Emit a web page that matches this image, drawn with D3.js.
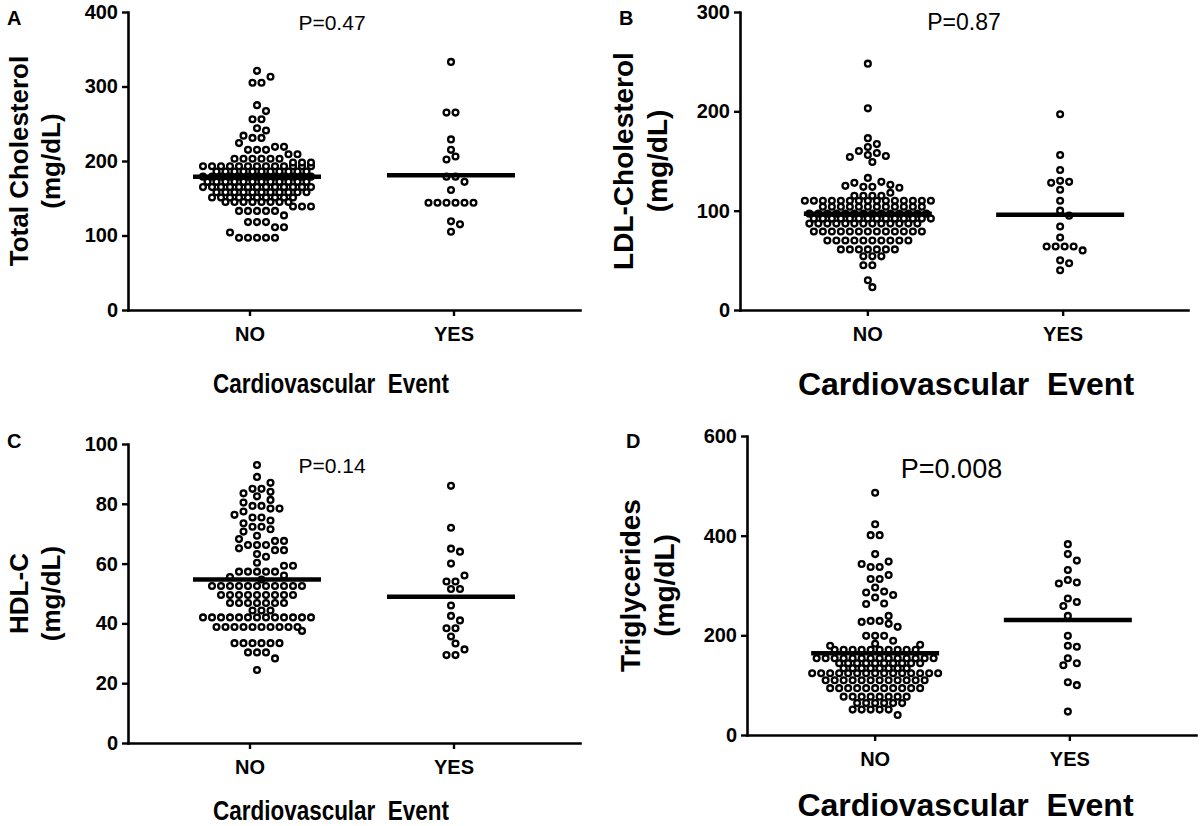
<!DOCTYPE html>
<html><head><meta charset="utf-8">
<script src="https://cdn.jsdelivr.net/npm/d3@7"></script>
<style>
body{margin:0;background:#fff}
svg{display:block}
text{font-family:"Liberation Sans",Arial,Helvetica,sans-serif;fill:#000}
</style>
</head><body>
<svg id="chart" width="1200" height="826"></svg>
<script>
// ---------- DATA ----------
const categories = ["NO", "YES"];

const ticksA = [0, 100, 200, 300, 400];
const ticksB = [0, 100, 200, 300];
const ticksC = [0, 20, 40, 60, 80, 100];
const ticksD = [0, 200, 400, 600];

const pLabels = ["P=0.47", "P=0.87", "P=0.14", "P=0.008"];

// Total cholesterol (mg/dL)
const cholNo = [321,313,305,305,275,267,256,256,244,241,234,231,231,224,219,219,215,215,215,209,209,
  203,203,203,203,203,203,198,198,198,
  193,193,193,193,193,193,193,193,193,193,193,193,193,
  186,186,186,186,186,186,186,186,186,186,186,
  179,179,179,179,179,179,179,179,179,179,179,179,179,
  172,172,172,172,172,172,172,172,172,172,172,172,
  165,165,165,165,165,165,165,165,165,165,165,165,165,
  158,158,158,158,158,158,158,158,158,158,158,
  151,151,151,151,151,151,151,151,151,151,
  145,145,145,145,145,145,145,145,
  139,139,139,133,133,133,133,133,127,118,118,118,111,111,104,97,97,97,97,97];
const cholYes = [333,265,265,229,215,206,202,179,179,172,161,144,144,144,144,144,144,119,115,105];
const cholMeans = [179, 181];

// LDL-cholesterol (mg/dL)
const ldlNo = [248,203,173,167,164,160,158,156,155,154,149,133,129,128,126,125,124,124,123,118,115,115,115,115,
  110,110,110,110,110,110,110,110,110,110,110,110,110,110,110,
  104,104,104,104,104,104,104,104,104,104,104,104,
  97,97,97,97,97,97,97,97,97,97,97,97,97,97,
  92,92,92,92,92,92,92,92,92,92,92,92,92,92,
  87,87,87,87,87,87,87,87,87,87,87,87,87,
  79,79,79,79,79,79,79,79,79,79,79,79,79,
  70,70,70,70,70,70,70,70,70,70,
  61,61,61,61,61,61,61,
  54,54,54,45,45,30,23];
const ldlYes = [197,156,141,130,129,128,121,110,100,95,84,73,64,64,64,64,60,50,47,40];
const ldlMeans = [97, 96];

// HDL-C (mg/dL)
const hdlNo = [93,89,87,85,85,84,83.5,82.5,81.3,80.4,79.3,79.3,78.4,78.4,77.4,76.3,75.4,75.4,74.4,73.5,
  72.3,72.3,71.5,70.7,69.3,68.2,67.6,67.6,66.2,66.2,66.2,65.1,64.5,64.5,63.2,62.3,60.3,59.3,59.3,
  57.3,57.3,57.3,57.3,57.3,56,55.5,54.7,
  52.5,52.5,52.5,52.5,52.5,52.5,52.5,52.5,52.5,52.5,52.5,
  49.5,49.5,49.5,49.5,49.5,49.5,49.5,49.5,49.5,
  46.8,46.8,46.8,46.8,46.8,46.8,46.8,
  44.3,44.3,44.3,
  42,42,42,42,42,42,42,42,42,42,42,42,42,
  38.8,38.8,38.8,38.8,38.8,38.8,38.8,38.8,38.8,38.8,
  37.5,33.4,33.4,33.4,33.4,33.4,33.4,30.3,30.3,30.3,28.3,24.4];
const hdlYes = [86,72,65,64,60,56,54,54,51.5,51.5,46,42.5,41,38.4,38.4,35.6,33.3,31.3,29.4,29.4];
const hdlMeans = [54.7, 48.9];

// Triglycerides (mg/dL)
const tgNo = [486,423,401,401,363,348,343,337,337,321,313,313,296,288,286,281,276,264,263,239,229,229,227,223,217,199,199,199,189,183,181,179,
  171,171,171,171,171,171,171,171,171,171,
  154,154,154,154,154,154,154,154,154,154,154,154,154,154,
  144,144,144,144,144,144,144,144,144,144,
  134,134,134,134,134,134,134,134,
  124,124,124,124,124,124,124,124,124,124,124,124,124,124,124,
  110,110,110,110,110,110,110,110,110,110,110,110,
  94,94,94,94,94,94,94,94,94,94,94,
  77,77,77,77,77,77,77,77,
  64,64,64,64,64,64,
  51,51,51,51,51,40];
const tgYes = [383,363,350,331,311,306,304,274,267,259,239,199,179,177,154,144,140,106,100,47];
const tgMeans = [164, 231];

// ---------- PANEL CONFIG (layout only) ----------
const panels = [
  {letter:"A", ylab:["Total Cholesterol","(mg/dL)"], p:pLabels[0], ticks:ticksA, dom:[0,400],
   data:[cholNo,cholYes], means:cholMeans, x0:128, x1:580, yTop:12, yBot:310, catDx:[-7,3],
   ylabSize:26, lab1:-100, lab2:-68, titleSize:28, titleLen:236, titleDx:-23, titleY:393, pSize:21, pDx:-22, pY:30, letterY:25},
  {letter:"B", ylab:["LDL-Cholesterol","(mg/dL)"], p:pLabels[1], ticks:ticksB, dom:[0,300],
   data:[ldlNo,ldlYes], means:ldlMeans, x0:740, x1:1188, yTop:12, yBot:310, catDx:[0,3],
   ylabSize:28, lab1:-107, lab2:-73, titleSize:32, titleLen:0, titleDx:2, titleY:395, pSize:23, pDx:0, pY:30, letterY:25},
  {letter:"C", ylab:["HDL-C","(mg/dL)"], p:pLabels[2], ticks:ticksC, dom:[0,100],
   data:[hdlNo,hdlYes], means:hdlMeans, x0:128, x1:580, yTop:444, yBot:743, catDx:[-7,3],
   ylabSize:26, lab1:-100, lab2:-68, titleSize:28, titleLen:236, titleDx:-23, titleY:820, pSize:21, pDx:-22, pY:473, letterY:448},
  {letter:"D", ylab:["Triglycerides","(mg/dL)"], p:pLabels[3], ticks:ticksD, dom:[0,600],
   data:[tgNo,tgYes], means:tgMeans, x0:747, x1:1196, yTop:436, yBot:735, catDx:[0,2],
   ylabSize:28, lab1:-107, lab2:-73, titleSize:32, titleLen:0, titleDx:-6, titleY:816, pSize:27, pDx:-20, pY:478, letterY:448}
];

const SP = 9, MIND = 8, R = 2.9, SW = 2.3, HALF = 64;

function swarm(values, yScale, cx) {
  const groups = d3.groups(values, v => v).map(([v, arr]) => ({v, n: arr.length, y: yScale(v)}));
  groups.sort((a, b) => b.n - a.n || b.v - a.v);
  const placed = [];
  for (const gr of groups) {
    const base = d3.range(gr.n).map(i => (i - (gr.n - 1) / 2) * SP);
    const cands = gr.n >= 4 ? [0, SP/2, -SP/2]
      : [0].concat(d3.range(1, 11).flatMap(k => [k*SP/2, -k*SP/2]));
    let best = 0, bestScore = Infinity;
    for (const s of cands) {
      let ov = 0;
      for (const b of base) for (const p of placed) {
        const d = Math.hypot(b + s - p.dx, gr.y - p.y);
        if (d < MIND) ov += MIND - d;
      }
      const score = ov * 50 + Math.abs(s);
      if (score < bestScore - 1e-9) { bestScore = score; best = s; }
    }
    base.forEach(b => placed.push({dx: b + best, y: gr.y}));
  }
  return placed.map(p => ({x: cx + p.dx, y: p.y}));
}

const svg = d3.select("#chart");
svg.append("rect").attr("width",1200).attr("height",826).attr("fill","#fff");

panels.forEach(P => {
  const g = svg.append("g");
  const y = d3.scaleLinear().domain(P.dom).range([P.yBot, P.yTop]);
  const x = d3.scalePoint().domain(categories).range([P.x0, P.x1]).padding(0.665);

  // y axis
  const ya = g.append("g").attr("transform", `translate(${P.x0},0)`)
    .call(d3.axisLeft(y).tickValues(P.ticks).tickSize(6).tickSizeOuter(0).tickPadding(4));
  // x axis
  const xa = g.append("g").attr("transform", `translate(0,${P.yBot})`)
    .call(d3.axisBottom(x).tickSize(6).tickSizeOuter(0).tickPadding(11));
  xa.selectAll(".tick").attr("transform", (d, i) => `translate(${x(d) + P.catDx[i]},0)`);
  [ya, xa].forEach(a => {
    a.select(".domain").attr("stroke","#000").attr("stroke-width",2.6).attr("stroke-linecap","square");
    a.selectAll(".tick line").attr("stroke","#000").attr("stroke-width",2.4);
    a.selectAll(".tick text").attr("font-size",20).attr("font-weight","bold")
      .attr("font-family","'Liberation Sans',Arial,sans-serif").attr("fill","#000");
  });

  // points
  categories.forEach((c, i) => {
    const pts = swarm(P.data[i], y, x(c));
    g.append("g").selectAll("circle").data(pts).join("circle")
      .attr("cx", d => d.x).attr("cy", d => d.y).attr("r", R)
      .attr("fill", "#fff").attr("stroke", "#000").attr("stroke-width", SW);
    g.append("line")
      .attr("x1", x(c) - HALF).attr("x2", x(c) + HALF)
      .attr("y1", y(P.means[i])).attr("y2", y(P.means[i]))
      .attr("stroke", "#000").attr("stroke-width", 4.5);
  });

  const mid = (x("NO") + x("YES")) / 2;
  const ymid = (P.yTop + P.yBot) / 2;

  // y label (two lines)
  P.ylab.forEach((t, k) => {
    const bx = P.x0 + (k === 0 ? P.lab1 : P.lab2);
    g.append("text").attr("transform", `translate(${bx},${ymid}) rotate(-90)`)
      .attr("text-anchor","middle").attr("font-size",P.ylabSize).attr("font-weight","bold").text(t);
  });

  // panel letter
  g.append("text").attr("x", P.x0 - 121).attr("y", P.letterY)
    .attr("font-size",20).attr("font-weight","bold").text(P.letter);

  // P value
  g.append("text").attr("x", mid + P.pDx).attr("y", P.pY).attr("text-anchor","middle")
    .attr("font-size",P.pSize).text(P.p);

  // x title
  const tt = g.append("text").attr("x", mid + P.titleDx).attr("y", P.titleY).attr("text-anchor","middle")
    .style("white-space","pre").attr("font-size",P.titleSize).attr("font-weight","bold")
    .text("Cardiovascular  Event");
  if (P.titleLen) tt.attr("textLength", P.titleLen).attr("lengthAdjust", "spacingAndGlyphs");
});
</script>
</body></html>
